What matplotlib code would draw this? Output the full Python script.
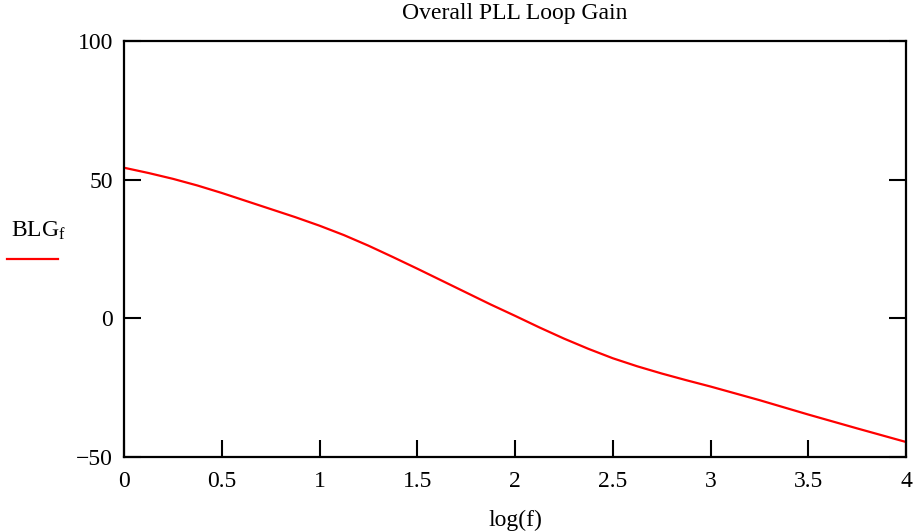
import matplotlib
matplotlib.use("Agg")
import matplotlib.pyplot as plt
from matplotlib.lines import Line2D

plt.rcParams['font.family'] = ['Liberation Serif', 'DejaVu Serif']
plt.rcParams['mathtext.fontset'] = 'custom'
plt.rcParams['mathtext.rm'] = 'Liberation Serif'
plt.rcParams['mathtext.it'] = 'Liberation Serif'

# log(f) and loop gain values
logf = [0.0, 0.125, 0.25, 0.375, 0.5, 0.625, 0.75, 0.875, 1.0, 1.125, 1.25, 1.375,
        1.5, 1.625, 1.75, 1.875, 2.0, 2.125, 2.25, 2.375, 2.5, 2.625, 2.75,
        2.875, 3.0, 3.25, 3.5, 3.75, 4.0]
blg = [54.3, 52.4, 50.3, 47.9, 45.2, 42.3, 39.4, 36.5, 33.4, 30.0, 26.2, 22.1,
       17.9, 13.6, 9.3, 5.0, 0.9, -3.3, -7.3, -11.0, -14.4, -17.3, -19.9,
       -22.3, -24.6, -29.5, -34.7, -39.7, -44.6]

xticks = [0, 0.5, 1, 1.5, 2, 2.5, 3, 3.5, 4]
xtick_labels = ['0', '0.5', '1', '1.5', '2', '2.5', '3', '3.5', '4']
yticks = [-50, 0, 50, 100]
ytick_labels = ['\u221250', '0', '50', '100']

fig = plt.figure(figsize=(9.14, 5.31), dpi=100)
ax = fig.add_axes([0.1357, 0.1394, 0.8556, 0.7834])

ax.plot(logf, blg, color='red', lw=1.6)

ax.set_xlim(0, 4)
ax.set_ylim(-50, 100)
ax.set_xticks(xticks)
ax.set_xticklabels(xtick_labels)
ax.set_yticks(yticks)
ax.set_yticklabels(ytick_labels)
ax.tick_params(direction='in', length=12, width=1.5, top=False, right=True,
               labelsize=17, colors='black', pad=8)
ax.tick_params(axis='x', pad=10)
for s in ax.spines.values():
    s.set_linewidth(1.6)

ax.set_title('Overall PLL Loop Gain', fontsize=17, pad=16)
ax.set_xlabel('log(f)', fontsize=17, labelpad=13)

# legend-like label on the left
fig.text(0.012, 1 - 237 / 531, r'BLG$_{\mathrm{f}}$', fontsize=17, ha='left', va='baseline')
fig.add_artist(Line2D([0.008, 0.064], [1 - 259 / 531, 1 - 259 / 531], color='red', lw=1.6,
                      transform=fig.transFigure))

fig.savefig('out.png', dpi=100)
